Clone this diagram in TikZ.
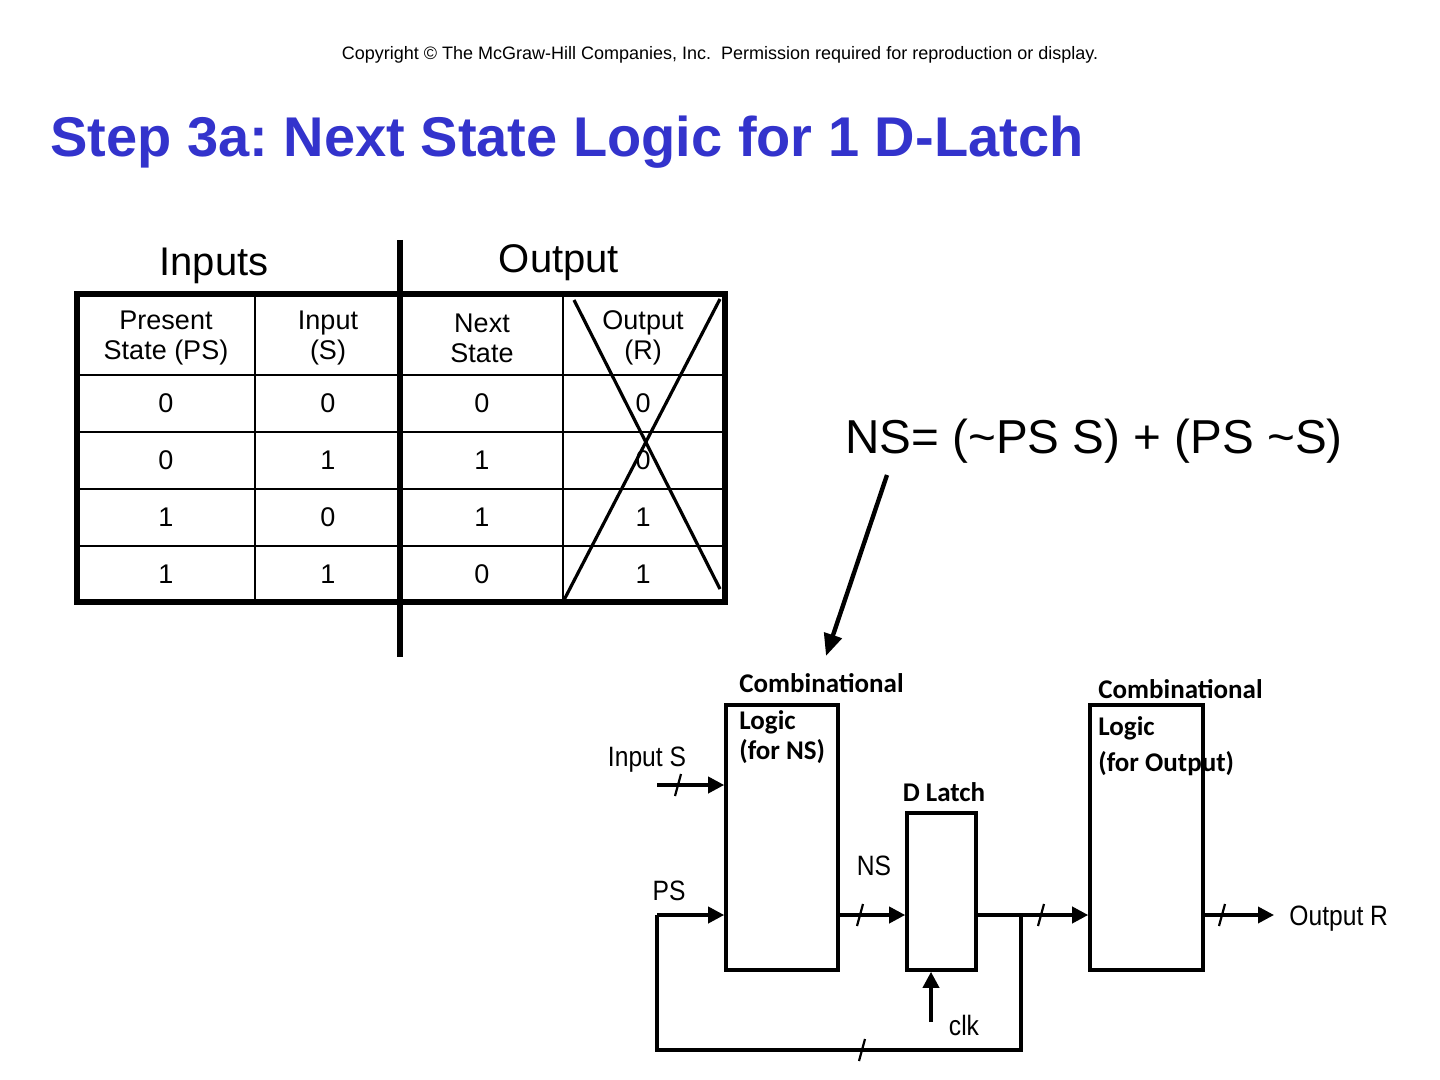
\documentclass[tikz,border=0pt]{standalone}
\usepackage{fontspec}
\setmainfont{Liberation Sans}
\newfontfamily\calib{Carlito}
\newfontfamily\narrowf[FakeStretch=0.88]{Liberation Sans}
\usetikzlibrary{arrows.meta,calc}
\definecolor{titleblue}{RGB}{51,51,204}
\frenchspacing
\begin{document}
\begin{tikzpicture}[x=0.5pt,y=-0.5pt,
  tabtext/.style={font=\fontsize{13.5}{15}\selectfont, align=center, inner sep=0pt},
  circbox/.style={draw, line width=1.8pt, inner sep=0pt},
  circlabel/.style={font=\calib\bfseries\fontsize{13.5}{15}\selectfont, inner sep=0pt},
  sigtext/.style={font=\narrowf\fontsize{14}{16}\selectfont, inner sep=0pt},
  wire/.style={line width=1.8pt},
  arr/.style={line width=1.8pt, -{Triangle[length=8pt,width=8pt]}},
  slashmark/.style={line width=1.1pt}]
\useasboundingbox (0,0) rectangle (1440,1080);

% header
\node (copy) [font=\fontsize{9}{11}\selectfont, inner sep=0pt] at (720,55)
  {Copyright \textcopyright{} The McGraw-Hill Companies, Inc.\ \ Permission required for reproduction or display.};
\node (title) [font=\bfseries\fontsize{28}{32}\selectfont, text=titleblue, anchor=west, inner sep=0pt] at (50,142)
  {Step 3a: Next State Logic for 1 D-Latch};

% table
\node (inputs) [font=\fontsize{20}{24}\selectfont, inner sep=0pt] at (214,266) {Inputs};
\node (output) [font=\fontsize{20}{24}\selectfont, inner sep=0pt] at (559,263) {Output};
\foreach \y in {375,432,489,546} \draw[line width=1pt] (75,\y) -- (727,\y);
\foreach \x in {255,563} \draw[line width=1pt] (\x,292) -- (\x,604);
\draw[line width=2.6pt] (77,294) rectangle (725,602);
\draw[line width=2.6pt] (400,240) -- (400,657);

\node (h1) [tabtext] at (166,338) {Present\\State (PS)};
\node (h2) [tabtext] at (328,338) {Input\\(S)};
\node (h3) [tabtext] at (482,338) {Next\\State};
\node (h4) [tabtext] at (643,338) {Output\\(R)};
\foreach \r/\a/\b/\c/\d [count=\i] in {403/0/0/0/0, 460/0/1/1/0, 517/1/0/1/1, 574/1/1/0/1}{
  \node (ps\i) [tabtext] at (166,\r) {\a};
  \node (s\i)  [tabtext] at (328,\r) {\b};
  \node (ns\i) [tabtext] at (482,\r) {\c};
  \node (r\i)  [tabtext] at (643,\r) {\d};
}
\draw[line width=1.6pt] (574,300) -- (720,589);
\draw[line width=1.6pt] (564,600) -- (720,299);

% equation
\node (eq) [font=\fontsize{23.8}{28}\selectfont, anchor=west, inner sep=0pt] at (845,441)
  {NS= (\textasciitilde PS S) + (PS \textasciitilde S)};
\coordinate (eqtail) at (887,475);
\draw[line width=2.2pt, -{Triangle[length=11pt,width=9pt]}] (eqtail) -- (826,656);

% circuit
\node (cl1) [circbox, minimum width=56pt, minimum height=132.5pt] at (782,837.5) {};
\node (latch) [circbox, minimum width=34.5pt, minimum height=78.5pt] at (941.5,891.5) {};
\node (cl2) [circbox, minimum width=56.5pt, minimum height=132.5pt] at (1146.5,837.5) {};

\node (c1a) [circlabel, anchor=west] at (739,683) {Combinational};
\node (c1b) [circlabel, anchor=west] at (739,722) {Logic};
\node (c1c) [circlabel, anchor=west] at (739,752) {(for NS)};
\node (dl)  [circlabel] at (944,792) {D Latch};
\node (c2a) [circlabel, anchor=west] at (1098,689) {Combinational};
\node (c2b) [circlabel, anchor=west] at (1098,728) {Logic};
\node (c2c) [circlabel, anchor=west] at (1098,764) {(for Output)};

\node (ins) [sigtext] at (647,760) {Input S};
\node (pst) [sigtext] at (669,891) {PS};
\node (nst) [sigtext] at (874,866) {NS};
\node (clkt) [sigtext] at (964,1025) {clk};
\node (outR) [sigtext, anchor=west] at (1289,919) {Output R};

\coordinate (sin) at (657,785);
\coordinate (psin) at (657,915);
\coordinate (fb) at (1021,915);
\coordinate (clk) at (931,1022);
\coordinate (outtip) at (1274,915);

\draw[arr] (sin) -- (sin -| cl1.west);
\draw[arr] (psin) -- (psin -| cl1.west);
\draw[arr] (cl1.east |- psin) -- (latch.west |- psin);
\draw[arr] (latch.east |- psin) -- (cl2.west |- psin);
\draw[arr] (cl2.east |- psin) -- (outtip);
\draw[wire] (fb) -- (1021,1050) -| (psin);
\draw[arr] (clk) -- (clk |- latch.south);

% bus slashes
\foreach \x/\y in {678/785, 860/915, 1041/915, 1222/915, 862/1050}
  \draw[slashmark] (\x-3,\y+11) -- (\x+3,\y-11);
\end{tikzpicture}
\end{document}
